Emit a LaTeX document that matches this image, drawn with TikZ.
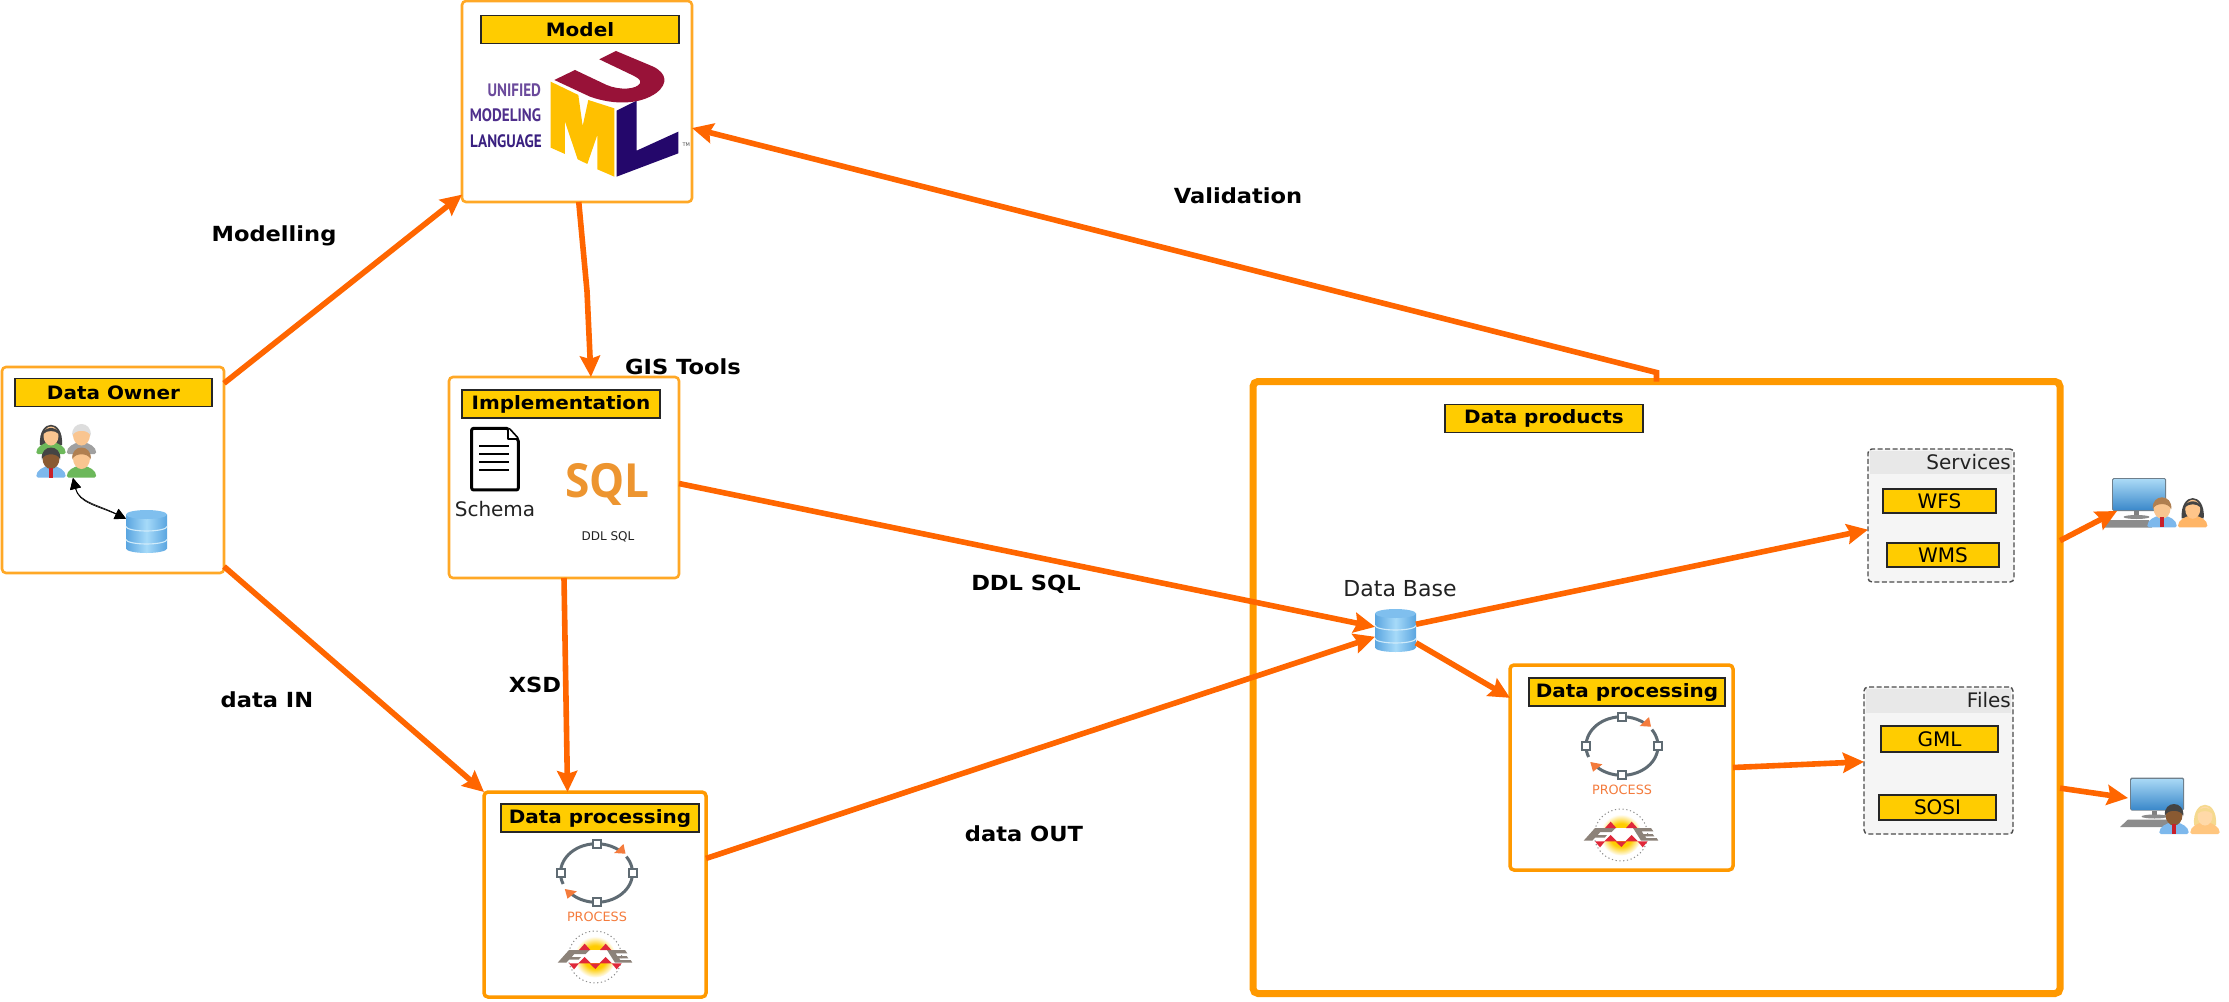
\documentclass[tikz,border=0pt]{standalone}
\usepackage{fontspec}
\setmainfont[BoldFeatures={FakeStretch=1.085}]{DejaVu Sans}
\newfontfamily\ptfont{PT Sans}
\newfontfamily\osfont{Open Sans}
\usetikzlibrary{arrows.meta,calc,shapes.geometric}
\definecolor{arrowc}{HTML}{FF6600}
\definecolor{boxc}{HTML}{FF9900}
\definecolor{titlec}{HTML}{FFCC00}
\definecolor{txtc}{HTML}{222222}
\definecolor{ringc}{HTML}{5F6B73}
\definecolor{procc}{HTML}{F47B3C}
\definecolor{umly}{HTML}{FFC000}
\definecolor{umlp}{HTML}{24076B}
\definecolor{umlm}{HTML}{981238}
\definecolor{umlta}{HTML}{6B4A9C}
\definecolor{umltb}{HTML}{4F2F8C}
\definecolor{umltc}{HTML}{3A2080}
\definecolor{sqlc}{HTML}{ED9530}
\definecolor{dbside}{HTML}{5AA5E0}
\definecolor{dbmid}{HTML}{A6DAF9}
\definecolor{dbtop}{HTML}{7FBFEE}
\definecolor{dbsep}{HTML}{D0EBFA}
\definecolor{shblue}{HTML}{7DB8EC}
\definecolor{shgreen}{HTML}{6CB85A}
\definecolor{shgrey}{HTML}{A0A0A0}
\definecolor{shorange}{HTML}{FFB566}
\definecolor{shpale}{HTML}{FFC67F}
\definecolor{skin}{HTML}{F9C590}
\definecolor{skinb}{HTML}{8A5A32}
\definecolor{skino}{HTML}{FFC58A}
\definecolor{skinp}{HTML}{FFD9A8}
\definecolor{hairk}{HTML}{444444}
\definecolor{hairw}{HTML}{DDDDDD}
\definecolor{hairb}{HTML}{B07F50}
\definecolor{hairy}{HTML}{F5D98F}
\definecolor{tiec}{HTML}{C8202A}
\definecolor{bezel}{HTML}{6E7F8C}
\definecolor{scrt}{HTML}{A8D8F5}
\definecolor{scrb}{HTML}{3D8ACB}
\definecolor{fmeg}{HTML}{8C8279}
\definecolor{fmer}{HTML}{E0283A}
\pgfdeclareradialshading{glow}{\pgfpoint{0bp}{0bp}}{rgb(0bp)=(1,.8,0);rgb(14bp)=(1,.8,0);rgb(25bp)=(1,1,1);rgb(50bp)=(1,1,1)}
\tikzset{
 x=1pt,y=-1pt,
 panel/.style={draw=boxc!85!white,line width=2.6pt,rounded corners=4pt,fill=white,inner sep=0pt,outer sep=0pt},
 panelb/.style={draw=boxc,line width=3.5pt,rounded corners=4pt,fill=white,inner sep=0pt,outer sep=0pt},
 titlebar/.style={draw=black!85,line width=1.3pt,fill=titlec,inner sep=0pt,outer sep=0pt,text=black,font=\fontsize{18.4}{22}\selectfont\bfseries},
 itembar/.style={draw=black!85,line width=1.3pt,fill=titlec,inner sep=0pt,outer sep=0pt,text=black,font=\fontsize{20}{24}\selectfont},
 grp/.style={draw=black!70,dashed,dash pattern=on 5pt off 2.5pt,line width=1.4pt,fill=black!4,rounded corners=4pt,inner sep=0pt,outer sep=0pt},
 flow/.style={draw=arrowc,line width=5.6pt,line join=miter,-{Stealth[length=21pt,width=20pt,inset=3pt]}},
 lbl/.style={font=\fontsize{20.8}{26}\selectfont\bfseries,text=black,inner sep=0pt},
 plain/.style={font=\fontsize{20}{24}\selectfont,text=txtc,inner sep=0pt},
 ghost/.style={inner sep=0pt,outer sep=0pt},
}
\newcommand{\manicon}[5]{%
 \begin{scope}[shift={(#1,#2)}]
 \fill[#5,rounded corners=1.5pt] (-14.7,0) .. controls (-14.7,-7) and (-8,-11) .. (0,-12) .. controls (8,-11) and (14.7,-7) .. (14.7,0) -- cycle;
 \fill[#4] (0,-19) ellipse [x radius=8.5,y radius=10.5];
 \fill[#3] (-9.2,-18) .. controls (-11,-34) and (11,-34) .. (9.2,-18) .. controls (7,-25) and (-7,-25) .. cycle;
 \end{scope}}
\newcommand{\womanicon}[5]{%
 \begin{scope}[shift={(#1,#2)}]
 \fill[#3] (-11,-9) .. controls (-13,-36) and (13,-36) .. (11,-9) -- cycle;
 \fill[#5,rounded corners=1.5pt] (-14.7,0) .. controls (-14.7,-7) and (-8,-11) .. (0,-12) .. controls (8,-11) and (14.7,-7) .. (14.7,0) -- cycle;
 \fill[#4] (0,-18) ellipse [x radius=7.5,y radius=9.5];
 \fill[#3] (-7.8,-20) .. controls (-7,-28) and (7,-28) .. (7.8,-20) .. controls (4,-24) and (-4,-24) .. cycle;
 \end{scope}}
\newcommand{\tieicon}[2]{\fill[tiec] (#1-1.6,#2-10) -- (#1+1.6,#2-10) -- (#1+1.6,#2) -- (#1-1.6,#2) -- cycle;}
\newcommand{\dbicon}[2]{%
 \begin{scope}[shift={(#1,#2)}]
 \shade[left color=dbside,right color=dbside,middle color=dbmid]
   (-20.5,-17) -- (-20.5,17) arc[start angle=180,end angle=0,x radius=20.5,y radius=4.5] -- (20.5,-17) -- cycle;
 \draw[dbsep,line width=1.1pt] (-20.5,-5) arc[start angle=180,end angle=0,x radius=20.5,y radius=4.5];
 \draw[dbsep,line width=1.1pt] (-20.5,8) arc[start angle=180,end angle=0,x radius=20.5,y radius=4.5];
 \fill[dbtop] (0,-17) ellipse [x radius=20.5,y radius=4.5];
 \end{scope}}
\newcommand{\processicon}[2]{%
 \begin{scope}[shift={(#1,#2)}]
 \draw[ringc,line width=3pt] (-34:36 and 29.3) arc[start angle=-34,end angle=135,x radius=36,y radius=29.3];
 \draw[ringc,line width=3pt] (158:36 and 29.3) arc[start angle=158,end angle=310,x radius=36,y radius=29.3];
 \fill[procc] (17.7,-20) -- (27,-29) -- (29,-19.3) -- cycle;
 \fill[procc] (-31.7,16) -- (-19.7,18.3) -- (-29,25.7) -- cycle;
 \foreach \p in {(0,-29.3),(0,29.3),(36,0),(-36,0)} {
   \draw[ringc,fill=white,line width=2pt] \p ++(-4,-4) rectangle ++(8,8);}
 \end{scope}}
\newcommand{\fmeicon}[2]{%
 \begin{scope}[shift={(#1,#2)},x=.3333pt,y=-.3333pt]
 \shade[shading=glow] (0,0) circle (62);
 \fill[white] (-66,-21) rectangle (66,19);
 \draw[black!45,line width=1pt,dash pattern=on 1.2pt off 2.6pt] (0,0) ellipse [x radius=80,y radius=78];
 \fill[fmeg] (-112,17) -- (-78,-21) -- (-16,-21) -- (-28,-9) -- (-62,-9) -- (-70,0) -- (-42,0) -- (-49,8) -- (-78,8) -- (-86,17) -- cycle;
 \fill[fmeg] (112,17) -- (60,17) -- (36,-21) -- (90,-21) -- (97,-11) -- (62,-11) -- (67,-3) -- (95,-3) -- (100,4) -- (72,4) -- (76,9) -- (107,9) -- cycle;
 \fill[fmer] (-31,-40) -- (-48,-21) -- (-14,-21) -- cycle;
 \fill[fmer] (32,-40) -- (15,-21) -- (49,-21) -- cycle;
 \fill[fmer] (-31,0) -- (-50,19) -- (-12,19) -- cycle;
 \fill[fmer] (32,0) -- (13,19) -- (51,19) -- cycle;
 \fill[fmer] (-78,19) -- (-48,19) -- (-63,37) -- cycle;
 \fill[fmer] (-17,19) -- (17,19) -- (1,36) -- cycle;
 \fill[fmer] (50,19) -- (80,19) -- (65,37) -- cycle;
 \end{scope}}
\newcommand{\pcicon}[2]{%
 \begin{scope}[shift={(#1,#2)}]
 \fill[black!45] (-29,10) -- (10,10) -- (13,17.5) -- (-37,17.5) -- cycle;
 \fill[black!50] (-5,1) rectangle (0,6.5);
 \fill[black!45] (-2.5,7) ellipse [x radius=13,y radius=2];
 \fill[bezel,rounded corners=1.5pt] (-27,-32) rectangle (27,1);
 \shade[top color=scrt,bottom color=scrb] (-25.5,-30.5) rectangle (25.5,-.5);
 \end{scope}}
\begin{document}
\begin{tikzpicture}
\useasboundingbox (0,0) rectangle (2229,1001);
\fill[white] (0,0) rectangle (2229,1001);

% big box
\node[draw=boxc,line width=7pt,rounded corners=5pt,inner sep=0pt,outer sep=0pt,minimum width=807pt,minimum height=612pt] (big) at (1656.5,687.5) {};
\node[titlebar,minimum width=198pt,minimum height=28pt] (tprod) at (1544,418.5) {Data products};

% panels
\node[panel,minimum width=230pt,minimum height=201pt] (model) at (577,101.5) {};
\node[titlebar,minimum width=198pt,minimum height=28pt] (tmodel) at (580,29.5) {Model};
\node[panel,minimum width=222pt,minimum height=206pt] (owner) at (113,470) {};
\node[titlebar,minimum width=197pt,minimum height=28pt] (towner) at (113.5,392.5) {Data Owner};
\node[panel,minimum width=230pt,minimum height=201pt] (impl) at (564,477.5) {};
\node[titlebar,minimum width=198pt,minimum height=28pt] (timpl) at (561,404) {Implementation};
\node[panelb,minimum width=222pt,minimum height=205pt] (dpa) at (595,894.5) {};
\node[titlebar,minimum width=198pt,minimum height=28pt] (tdpa) at (600,818) {Data processing};
\node[panelb,minimum width=223pt,minimum height=205pt] (dpb) at (1621.5,767.5) {};
\node[titlebar,minimum width=196pt,minimum height=28pt] (tdpb) at (1627,692) {Data processing};

% UML logo
\begin{scope}[shift={(440,0)},x=.3333pt,y=-.3333pt]
 \fill[umly] (332,245) -- (415,285) -- (428,378) -- (445,300) -- (523,325) -- (523,530) -- (472,508) -- (472,405) -- (442,492) -- (413,478) -- (375,365) -- (375,462) -- (332,443) -- cycle;
 \fill[umlp] (530,332) -- (590,302) -- (590,452) -- (715,395) -- (715,460) -- (530,530) -- cycle;
 \fill[umlm] (478,178) -- (528,153) -- (640,200) .. controls (680,220) and (685,250) .. (650,278) .. controls (600,315) and (520,315) .. (450,290) -- (343,240) -- (405,210) -- (500,255) .. controls (540,272) and (590,268) .. (600,250) .. controls (605,238) and (590,232) .. (570,222) -- cycle;
 \node[ghost,text=umlta,anchor=east] (umla) at (303,271) {\ptfont\bfseries\fontsize{18}{20}\selectfont\scalebox{.84}[1]{UNIFIED}};
 \node[ghost,text=umltb,anchor=east] (umlb) at (303,347) {\ptfont\bfseries\fontsize{18}{20}\selectfont\scalebox{.84}[1]{MODELING}};
 \node[ghost,text=umltc,anchor=east] (umlc) at (305,424) {\ptfont\bfseries\fontsize{18}{20}\selectfont\scalebox{.84}[1]{LANGUAGE}};
 \node[ghost,text=black!70,font=\fontsize{5}{6}\selectfont] (umld) at (739,435) {TM};
\end{scope}

% Owner icons
\womanicon{51}{454}{hairk}{skin}{shgreen}
\manicon{81.5}{454}{hairw}{skin}{shgrey}
\manicon{51}{477.5}{hairk}{skinb}{shblue}
\tieicon{51}{477.5}
\manicon{81.5}{477.5}{hairb}{skin}{shgreen}
\dbicon{146.5}{531.5}
\node[ghost,minimum width=61pt,minimum height=56pt] (people) at (66.5,450) {};
\node[ghost,minimum width=41pt,minimum height=43pt] (ownerdb) at (146.5,531.5) {};
\foreach \o in {0,1.2}
 \draw[black,line width=.7pt,{Triangle[length=11pt,width=11pt]}-{Triangle[length=11pt,width=11pt]}] (people.-77.5) .. controls ($(people.-77.5)+(6,24+\o)$) and ($(ownerdb.148.6)+(-28,-14+\o)$) .. (ownerdb.148.6);

% Implementation icons
\begin{scope}[shift={(440,370)},x=.3333pt,y=-.3333pt]
 \draw[black,line width=3pt,rounded corners=2pt,fill=white,line join=round] (95,175) -- (205,175) -- (235,208) -- (235,360) -- (95,360) -- cycle;
 \draw[black,line width=2pt,fill=white,line join=round] (205,176) -- (205,208) -- (234,208);
 \foreach \yy in {228,252,277,301} \draw[black,line width=2pt] (118,\yy) -- (208,\yy);
\end{scope}
\node[plain] (schema) at (495,509) {Schema};
\node[ghost,text=sqlc] (sql) at (607.5,484) {\osfont\bfseries\fontsize{47}{50}\selectfont\scalebox{.94}[1]{SQL}};
\node[plain,font=\fontsize{12}{14}\selectfont] (ddl) at (608,537) {DDL SQL};

% processing icons
\processicon{596.5}{873}
\node[ghost,text=procc,font=\fontsize{12.8}{15}\selectfont] (pa) at (597,917) {PROCESS};
\fmeicon{595}{957}
\processicon{1622}{746}
\node[ghost,text=procc,font=\fontsize{12.8}{15}\selectfont] (pb) at (1622,790) {PROCESS};
\fmeicon{1621}{835}

% data base
\dbicon{1395.5}{630.5}
\node[ghost,minimum width=41pt,minimum height=43pt] (db) at (1395.5,630.5) {};
\node[plain,font=\fontsize{22}{26}\selectfont] (dbl) at (1400,589) {Data Base};

% Services / Files
\node[grp,minimum width=146pt,minimum height=133pt] (serv) at (1941,515.5) {};
\fill[black!9] (1870,451) rectangle (2012,474);
\node[plain,anchor=east] (servl) at (2011,462) {Services};
\node[itembar,minimum width=113pt,minimum height=24pt] (wfs) at (1939.5,501) {WFS};
\node[itembar,minimum width=112pt,minimum height=24pt] (wms) at (1943,555) {WMS};
\node[grp,minimum width=149pt,minimum height=147pt] (files) at (1938.5,760.5) {};
\fill[black!9] (1866,689) rectangle (2011,713);
\node[plain,anchor=east] (filesl) at (2011,700) {Files};
\node[itembar,minimum width=117pt,minimum height=26pt] (gml) at (1939.5,739) {GML};
\node[itembar,minimum width=117pt,minimum height=25pt] (sosi) at (1937.5,807.5) {SOSI};

% end users
\pcicon{2139}{510}
\manicon{2162}{527.3}{hairb}{skin}{shblue}
\tieicon{2162}{527.3}
\womanicon{2192.7}{527.3}{hairk}{skino}{shorange}
\pcicon{2157}{809.5}
\manicon{2174}{834}{hairk}{skinb}{shblue}
\tieicon{2174}{834}
\womanicon{2205}{834}{hairy}{skinp}{shpale}
\coordinate (usera) at (2117,511);
\coordinate (userb) at (2128,798);

% connectors
\coordinate (bend) at (587,291);
\draw[flow] (owner.38.7) -- (model.219.1);
\draw[flow] (model.271) -- (bend) -- (impl.75);
\draw[flow] (owner.-41.7) -- (dpa.north west);
\draw[flow] (impl.270.6) -- (dpa.105.8);
\draw[flow] (impl.-3.2) -- (db.170.3);
\draw[flow] (dpa.18.7) -- (db.197.6);
\draw[flow] (db.17.6) -- (serv.191.2);
\draw[flow] (db.-31) -- (dpb.148.8);
\draw[flow] (dpb.0.8) -- (files.181);
\draw[flow] (big.north) -- ++(0,-9) -- (model.-13.9);
\draw[flow] (big.20.6) -- (usera);
\draw[flow] (big.-14) -- (userb);

% labels
\node[lbl] (lmod) at (274,236) {Modelling};
\node[lbl] (lval) at (1238,196) {Validation};
\node[lbl] (lgis) at (683,367) {GIS Tools};
\node[lbl] (lddl) at (1026,584) {DDL SQL};
\node[lbl] (lxsd) at (535,685) {XSD};
\node[lbl] (lin) at (267,700) {data IN};
\node[lbl] (lout) at (1024,834) {data OUT};
\end{tikzpicture}
\end{document}
